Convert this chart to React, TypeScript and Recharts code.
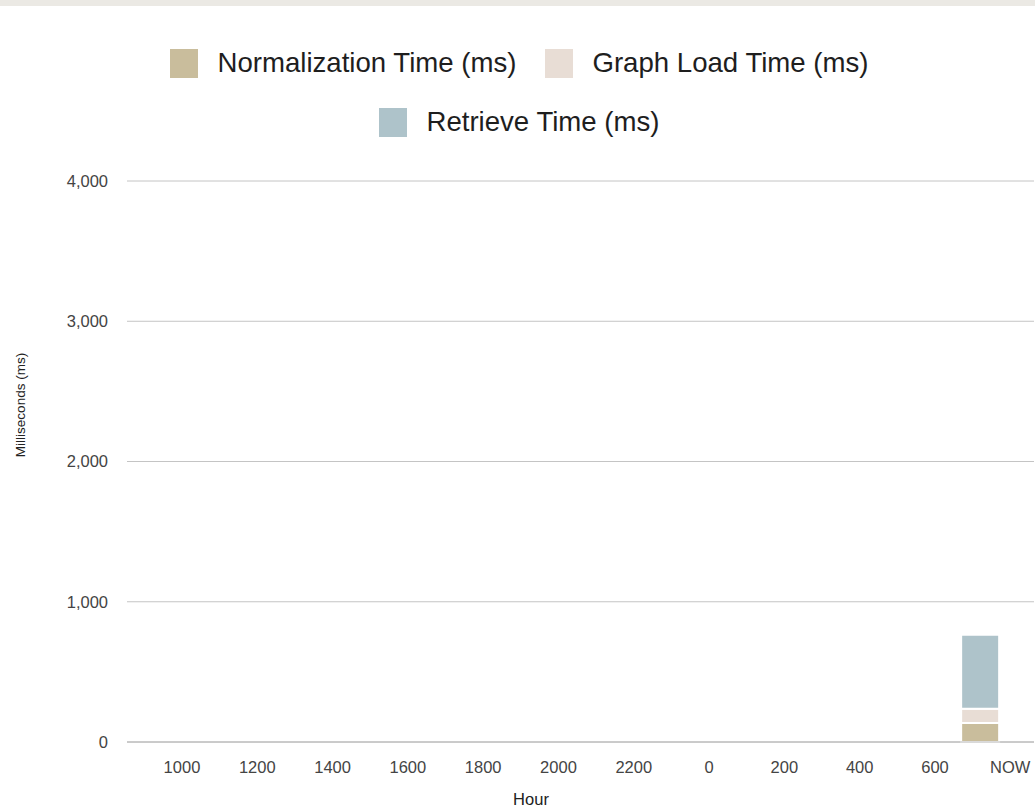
import React from 'react';
import { BarChart, Bar, XAxis, YAxis, CartesianGrid, ReferenceLine } from 'recharts';

// hours counted from midnight of the first day; 24 = next midnight
const hourTicks = [10, 12, 14, 16, 18, 20, 22, 24, 26, 28, 30, 32];
const hourTickLabels = ['1000', '1200', '1400', '1600', '1800', '2000', '2200', '0', '200', '400', '600', 'NOW'];
const yTicks = [0, 1000, 2000, 3000, 4000];

const sampleHours = [31.2];
const normalizationMs = [135];
const graphLoadMs = [102];
const retrieveMs = [528];

const seriesNames = ['Normalization Time (ms)', 'Graph Load Time (ms)', 'Retrieve Time (ms)'];
const seriesColors = ['#c9bd9c', '#e8ddd5', '#aec3ca'];

const data = sampleHours.map((h, i) => ({
  hour: h,
  normalization: normalizationMs[i],
  graphLoad: graphLoadMs[i],
  retrieve: retrieveMs[i],
}));

const FONT = '"Liberation Sans", Arial, sans-serif';

function LegendItem({ name, color, gap }: { name: string; color: string; gap: number }) {
  return (
    <div style={{ display: 'flex', alignItems: 'center', marginRight: gap }}>
      <div style={{ width: 28, height: 29, background: color, marginRight: 19 }} />
      <span style={{ fontSize: 27.6, color: '#1e1e1e', whiteSpace: 'nowrap' }}>{name}</span>
    </div>
  );
}

export default function App() {
  const fmtHour = (v: number) => {
    const i = hourTicks.indexOf(v);
    return i >= 0 ? hourTickLabels[i] : '';
  };

  return (
    <div
      style={{
        position: 'absolute',
        left: 0,
        top: 0,
        width: 1035,
        height: 806,
        overflow: 'hidden',
        background: '#fff',
        fontFamily: FONT,
      }}
    >
      <div style={{ position: 'absolute', left: 0, top: 0, width: 1035, height: 6, background: '#ebe9e4' }} />

      {/* legend */}
      <div style={{ position: 'absolute', left: 2, top: 47, width: 1035, display: 'flex', justifyContent: 'center' }}>
        <LegendItem name={seriesNames[0]} color={seriesColors[0]} gap={29} />
        <LegendItem name={seriesNames[1]} color={seriesColors[1]} gap={0} />
      </div>
      <div style={{ position: 'absolute', left: 2, top: 106, width: 1035, display: 'flex', justifyContent: 'center' }}>
        <LegendItem name={seriesNames[2]} color={seriesColors[2]} gap={0} />
      </div>

      {/* axis titles */}
      <div
        style={{
          position: 'absolute',
          left: 20,
          top: 405,
          transform: 'translate(-50%, -50%) rotate(-90deg)',
          fontSize: 13.5,
          color: '#222',
          whiteSpace: 'nowrap',
        }}
      >
        Milliseconds (ms)
      </div>
      <div
        style={{
          position: 'absolute',
          left: 531,
          top: 799,
          transform: 'translate(-50%, -50%)',
          fontSize: 16.5,
          color: '#222',
        }}
      >
        Hour
      </div>

      <div style={{ position: 'absolute', left: 0, top: 0 }}>
        <BarChart width={1035} height={806} data={data} margin={{ top: 181, right: 1, left: 0, bottom: 34 }}>
          <CartesianGrid vertical={false} stroke="#c4c4c4" />
          <XAxis
            dataKey="hour"
            type="number"
            domain={[8.54, 32.63]}
            ticks={hourTicks}
            interval={0}
            allowDataOverflow
            tickFormatter={fmtHour}
            axisLine={false}
            tickLine={false}
            tickMargin={13}
            height={30}
            tick={{ fontSize: 16.5, fill: '#444', fontFamily: FONT }}
          />
          <YAxis
            domain={[0, 4000]}
            ticks={yTicks}
            width={127}
            axisLine={false}
            tickLine={false}
            tickMargin={13}
            tickFormatter={(v: number) => v.toLocaleString('en-US')}
            tick={{ fontSize: 16.5, fill: '#444', fontFamily: FONT }}
          />
          <Bar dataKey="normalization" name={seriesNames[0]} stackId="a" fill={seriesColors[0]} stroke="#fff" strokeWidth={2} barSize={38} isAnimationActive={false} />
          <Bar dataKey="graphLoad" name={seriesNames[1]} stackId="a" fill={seriesColors[1]} stroke="#fff" strokeWidth={2} barSize={38} isAnimationActive={false} />
          <Bar dataKey="retrieve" name={seriesNames[2]} stackId="a" fill={seriesColors[2]} stroke="#fff" strokeWidth={2} barSize={38} isAnimationActive={false} />
          <ReferenceLine y={0} stroke="#b4b4b4" />
        </BarChart>
      </div>
    </div>
  );
}
